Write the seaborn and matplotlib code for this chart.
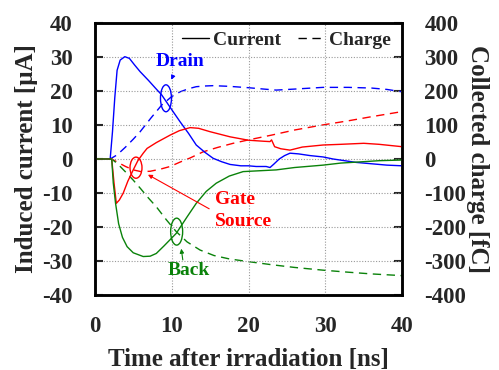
import numpy as np
import pandas as pd
import matplotlib
matplotlib.use("Agg")
import matplotlib.pyplot as plt
from matplotlib.patches import Ellipse
from matplotlib.lines import Line2D
import seaborn as sns

# ---------------- data ----------------
drain_i_t = [0, 2.0, 2.3, 2.6, 2.9, 3.3, 3.9, 4.5, 5.2, 5.9, 7.0, 8.0, 8.7, 10.0, 11.1, 12.2,
             13.2, 14.3, 15.4, 16.5, 17.6, 19, 20, 21, 22.3, 22.8, 23.3, 24, 24.7, 25.4, 26.5,
             28, 29.7, 31, 32.5, 34, 36, 38, 40]
drain_i = [0, 0, 8, 18, 26, 29, 30, 29.5, 27.5, 25.6, 23, 20.5, 18.8, 14.5, 10.9, 7.5,
           4.1, 2.0, 0.2, -0.8, -1.6, -2.0, -2.0, -2.2, -2.2, -2.5, -1.5, 0, 1.0, 1.7, 1.5,
           1.0, 0.6, 0, -0.5, -1.0, -1.4, -1.8, -2.0]

gate_i_t = [0, 2.2, 2.5, 2.8, 3.2, 3.7, 4.3, 5.0, 5.6, 6.3, 6.8, 8.0, 9.8, 11, 12.4, 13.5,
            15, 17.6, 20, 22, 22.8, 23.0, 23.4, 24.2, 25.4, 27, 29.7, 32, 35, 37, 40]
gate_i = [0, 0, -7, -13, -12, -10, -6.5, -3.2, -0.5, 1.7, 3.1, 4.8, 7, 8.3, 9.2, 9.0,
          8, 6.5, 5.5, 5.2, 5.1, 5.6, 3.6, 3, 2.6, 3.5, 4.1, 4.3, 4.6, 4.3, 3.6]

back_i_t = [0, 2.2, 2.4, 2.7, 3.1, 3.6, 4.2, 5.0, 6.3, 7.2, 8.0, 9.0, 10.6, 12.0, 13.2,
            14.5, 15.8, 17.5, 19.3, 21, 23.6, 26, 29.7, 32, 34.9, 37, 40]
back_i = [0, 0, -7, -13, -19, -23, -25.7, -27.5, -28.6, -28.5, -27.7, -25.5, -21.8, -17, -13,
          -9.5, -7.1, -5, -3.7, -3.5, -3.2, -2.5, -1.8, -1.2, -0.8, -0.5, -0.3]

drain_q_t = [0, 2.0, 2.9, 4.0, 5.0, 5.9, 7.3, 8.7, 10.0, 11.1, 12.2, 13.2, 14.3, 15.4, 17.5,
             20, 22, 23.6, 26, 29.7, 33, 36, 38, 40]
drain_q = [0, 0, 12, 35, 58, 80, 120, 158, 183, 197, 206, 212, 214, 215, 213,
           209, 205, 202, 205, 210, 210, 208, 204, 197]

gate_q_t = [0, 2.2, 3.0, 4.0, 5.0, 6.0, 7.2, 8.5, 9.8, 11, 12.4, 14.1, 16, 18, 20, 23, 26,
            29.7, 33, 36, 40]
gate_q = [0, 0, -10, -22, -32, -37, -36, -30, -22, -10, 3, 21, 34, 46, 56, 70, 85,
          100, 112, 124, 139]

back_q_t = [0, 2.2, 3.0, 4.0, 5.0, 6.0, 7.0, 8.0, 9.3, 10.6, 12, 13.7, 15.5, 17.5, 20, 23,
            26, 29.7, 33, 36, 40]
back_q = [0, 0, -15, -38, -62, -88, -115, -140, -178, -213, -243, -267, -283, -293, -301,
          -310, -318, -326, -332, -337, -342]

x_ticks = [0, 10, 20, 30, 40]
y_ticks = [-40, -30, -20, -10, 0, 10, 20, 30, 40]
y2_ticks = [-400, -300, -200, -100, 0, 100, 200, 300, 400]

colors = {"Drain": "#0000ff", "Gate/Source": "#ff0000", "Back": "#0a820a"}

cur = pd.concat([
    pd.DataFrame({"t": drain_i_t, "v": drain_i, "s": "Drain"}),
    pd.DataFrame({"t": gate_i_t, "v": gate_i, "s": "Gate/Source"}),
    pd.DataFrame({"t": back_i_t, "v": back_i, "s": "Back"}),
], ignore_index=True)
chg = pd.concat([
    pd.DataFrame({"t": drain_q_t, "v": drain_q, "s": "Drain"}),
    pd.DataFrame({"t": gate_q_t, "v": gate_q, "s": "Gate/Source"}),
    pd.DataFrame({"t": back_q_t, "v": back_q, "s": "Back"}),
], ignore_index=True)

# ---------------- style ----------------
sns.set_theme(style="white")
plt.rcParams["font.family"] = ["Liberation Serif", "DejaVu Serif"]
plt.rcParams["font.weight"] = "bold"
plt.rcParams["axes.labelweight"] = "bold"
plt.rcParams["axes.unicode_minus"] = False

fig = plt.figure(figsize=(4.99, 3.70), dpi=100)
ax = fig.add_axes([0.19, 0.2016, 0.616, 0.7374])
ax2 = ax.twinx()

sns.lineplot(data=chg, x="t", y="v", hue="s", palette=colors, ax=ax2, legend=False,
             estimator=None, sort=False, linewidth=1.0, dashes=False)
for ln in ax2.get_lines():
    ln.set_dashes((6, 4))
sns.lineplot(data=cur, x="t", y="v", hue="s", palette=colors, ax=ax, legend=False,
             estimator=None, sort=False, linewidth=1.0)

ax.set_zorder(ax2.get_zorder() + 1)
ax.patch.set_visible(False)

ax.set_xlim(0, 40)
ax.set_ylim(-40, 40)
ax2.set_ylim(-400, 400)
ax.set_xticks(x_ticks)
ax.set_yticks(y_ticks)
ax2.set_yticks(y2_ticks)

ax.grid(True, linestyle=(0, (1, 1.5)), color="#999999", linewidth=0.8)
ax.tick_params(axis="y", direction="in", length=6, width=1.5, labelsize=16.5, pad=16,
               right=False)
ax.tick_params(axis="x", direction="in", length=6, width=1.5, labelsize=16.5, pad=15,
               top=False)
ax2.tick_params(direction="in", length=6, width=1.5, labelsize=16.5, pad=16)
for a in (ax, ax2):
    for sp in a.spines.values():
        sp.set_linewidth(1.8)
        sp.set_color("black")
    for lab in a.get_xticklabels() + a.get_yticklabels():
        lab.set_fontweight("bold")

ax.set_xlabel("Time after irradiation [ns]", fontsize=18, fontweight="bold", labelpad=8)
ax.set_ylabel("Induced current [μA]", fontsize=18, fontweight="bold", labelpad=3)
ax2.set_ylabel("Collected charge [fC]", fontsize=18, fontweight="bold", rotation=270,
               labelpad=16)

# legend
handles = [Line2D([], [], color="black", lw=1.0),
           Line2D([], [], color="black", lw=1.0, dashes=(6, 4))]
ax.legend(handles, ["Current", "Charge"], ncol=2, loc="upper right", frameon=False,
          prop={"family": "Liberation Serif", "weight": "bold", "size": 14},
          handlelength=1.4, handletextpad=0.2, columnspacing=0.85,
          bbox_to_anchor=(1.0, 1.01), borderaxespad=0.2)

# annotations
ell = [((9.26, 17.8), 1.43, 7.9, colors["Drain"]),
       ((5.36, -2.55), 1.56, 6.2, colors["Gate/Source"]),
       ((10.65, -21.3), 1.56, 7.9, colors["Back"])]
for c, w, h, col in ell:
    ax.add_patch(Ellipse(c, w, h, fill=False, edgecolor=col, lw=1.0))

ax.text(11.1, 28.6, "Drain", color=colors["Drain"], fontsize=14, fontweight="bold",
        ha="center", va="center")
ax.annotate("", xy=(9.8, 22.5), xytext=(10.3, 25.0),
            arrowprops=dict(arrowstyle="-|>", color=colors["Drain"], lw=0.8,
                            mutation_scale=6))
ax.text(15.6, -12.0, "Gate", color=colors["Gate/Source"], fontsize=14,
        fontweight="bold", ha="left", va="center")
ax.text(15.6, -18.4, "Source", color=colors["Gate/Source"], fontsize=14,
        fontweight="bold", ha="left", va="center")
ax.annotate("", xy=(6.6, -4.2), xytext=(15.2, -15.0),
            arrowprops=dict(arrowstyle="-|>", color=colors["Gate/Source"], lw=0.8,
                            mutation_scale=6))
ax.text(12.2, -32.6, "Back", color=colors["Back"], fontsize=14, fontweight="bold",
        ha="center", va="center")
ax.annotate("", xy=(11.2, -25.5), xytext=(11.5, -30.4),
            arrowprops=dict(arrowstyle="-|>", color=colors["Back"], lw=0.8,
                            mutation_scale=6))

fig.savefig("out.png", dpi=100)
